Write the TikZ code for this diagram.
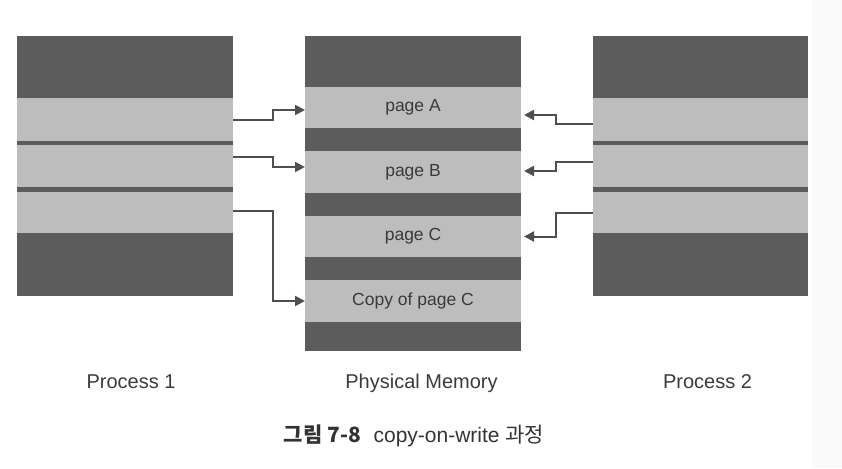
\documentclass[tikz,border=0pt]{standalone}
\usepackage{fontspec}
\setmainfont{Liberation Sans}
\newfontfamily\kr{Noto Sans CJK KR}
\usetikzlibrary{arrows.meta}

\definecolor{bandD}{HTML}{5C5C5C}
\definecolor{bandL}{HTML}{BDBDBD}
\definecolor{lineC}{HTML}{4F4F4F}
\definecolor{textC}{HTML}{3A3A3A}

\tikzset{
  page/.style={fill=bandL, inner sep=0pt, outer sep=0pt, minimum width=216pt,
    text=textC, font=\fontsize{17.5}{20}\selectfont},
  ptr/.style={draw=lineC, line width=2pt, -{Triangle[length=10pt,width=10pt]}},
  lbl/.style={anchor=base, text=textC, font=\fontsize{20}{23}\selectfont}
}

\begin{document}
\begin{tikzpicture}[x=1pt,y=-1pt]
    \useasboundingbox (0,0) rectangle (842,468);
    \fill[black!2] (812,0) rectangle (842,468);
    % the three columns
    \fill[bandD] (17,36) rectangle (233,296);
    \fill[bandD] (305,36) rectangle (521,351);
    \fill[bandD] (593,36) rectangle (808,296);
    % process 1
    \node[page, minimum height=43pt] (p1a) at (125,119.5) {};
    \node[page, minimum height=42pt] (p1b) at (125,166) {};
    \node[page, minimum height=41pt] (p1c) at (125,212.5) {};
    % physical memory
    \node[page, minimum height=41pt] (pa) at (413,107.5) {page A};
    \node[page, minimum height=42pt] (pb) at (413,172) {page B};
    \node[page, minimum height=41pt] (pc) at (413,236.5) {page C};
    \node[page, minimum height=42pt] (pcc) at (413,301) {Copy of page C};
    % process 2
    \node[page, minimum width=215pt, minimum height=43pt] (p2a) at (700.5,119.5) {};
    \node[page, minimum width=215pt, minimum height=42pt] (p2b) at (700.5,166) {};
    \node[page, minimum width=215pt, minimum height=41pt] (p2c) at (700.5,212.5) {};

    \draw[ptr] (p1a.east) -- ++(40,0) |- ([yshift=-2.5pt]pa.west);
    \draw[ptr] ([yshift=9pt]p1b.east) -- ++(40,0) |- ([yshift=5pt]pb.west);
    \draw[ptr] ([yshift=1.5pt]p1c.east) -- ++(40,0) |- (pcc.west);

    \draw[ptr, shorten >=3pt] ([yshift=-4.5pt]p2a.west) -- ++(-37,0) |- ([yshift=-7.5pt]pa.east);
    \draw[ptr, shorten >=3pt] ([yshift=4pt]p2b.west) -- ++(-37,0) |- ([yshift=1pt]pb.east);
    \draw[ptr, shorten >=3pt] (p2c.west) -- ++(-37,0) |- (pc.east);

    \node[lbl] (l1) at (131,388) {Process 1};
    \node[lbl] (lm) at (421.5,388) {Physical Memory};
    \node[lbl] (l2) at (707.5,388) {Process 2};

    \node[anchor=base, text=black!80, font=\fontsize{21}{24}\selectfont] (cap) at (414,442)
        {{\kr\bfseries 그림 7-8}\hspace{0.6em}copy-on-write {\kr 과정}};
\end{tikzpicture}
\end{document}
